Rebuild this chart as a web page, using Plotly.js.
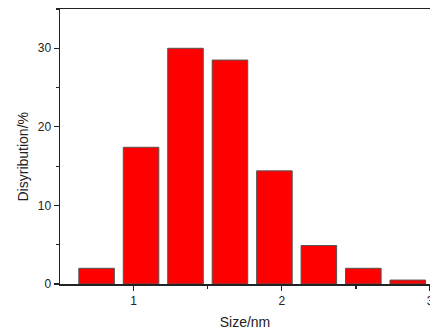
<!DOCTYPE html>
<html>
<head>
<meta charset="utf-8">
<script src="https://cdn.plot.ly/plotly-3.0.1.min.js"></script>
<style>html,body{margin:0;padding:0;background:#fff;}#chart{width:430px;height:334px;}</style>
</head>
<body>
<div id="chart"></div>
<script>
var sizes = [0.75, 1.05, 1.35, 1.65, 1.95, 2.25, 2.55, 2.85];
var distribution = [2.0, 17.4, 30.0, 28.5, 14.4, 4.9, 2.0, 0.5];
var xTicks = [1, 2, 3];
var yTicks = [0, 10, 20, 30];

var trace = {
  type: 'bar',
  x: sizes,
  y: distribution,
  width: 0.24,
  marker: {color: '#ff0000', line: {color: '#555555', width: 1}},
  hoverinfo: 'none'
};

var layout = {
  width: 430,
  height: 334,
  margin: {l: 60, r: 0, t: 9, b: 50},
  paper_bgcolor: '#ffffff',
  plot_bgcolor: '#ffffff',
  showlegend: false,
  font: {family: 'Liberation Sans, Arial, sans-serif', color: '#222'},
  xaxis: {
    range: [0.503, 3.0],
    tickvals: xTicks,
    ticktext: xTicks.map(String),
    ticks: 'outside',
    ticklen: 5,
    tickwidth: 1.2,
    tickcolor: '#222',
    ticklabeloverflow: 'allow',
    minor: {dtick: 0.5, ticks: 'outside', ticklen: 3, tickcolor: '#222', showgrid: false},
    showgrid: false,
    zeroline: false,
    showline: true,
    linecolor: '#222',
    linewidth: 1.5,
    mirror: true,
    tickfont: {size: 12, color: '#222'},
    title: {text: 'Size/nm', font: {size: 14, color: '#222'}, standoff: 10}
  },
  yaxis: {
    range: [0, 35],
    tickvals: yTicks,
    ticks: 'outside',
    ticklen: 5,
    tickwidth: 1.2,
    tickcolor: '#222',
    minor: {dtick: 5, ticks: 'outside', ticklen: 3, tickcolor: '#222', showgrid: false},
    showgrid: false,
    zeroline: false,
    showline: true,
    linecolor: '#222',
    linewidth: 1.5,
    mirror: true,
    tickfont: {size: 12, color: '#222'}
  },
  annotations: [{
    text: 'Disyribution/%',
    xref: 'paper', yref: 'paper',
    x: 0, y: 0.46,
    xanchor: 'center', yanchor: 'middle',
    xshift: -38,
    textangle: -90,
    showarrow: false,
    font: {size: 14, color: '#222'}
  }]
};

Plotly.newPlot('chart', [trace], layout, {displayModeBar: false, staticPlot: true});
</script>
</body>
</html>
